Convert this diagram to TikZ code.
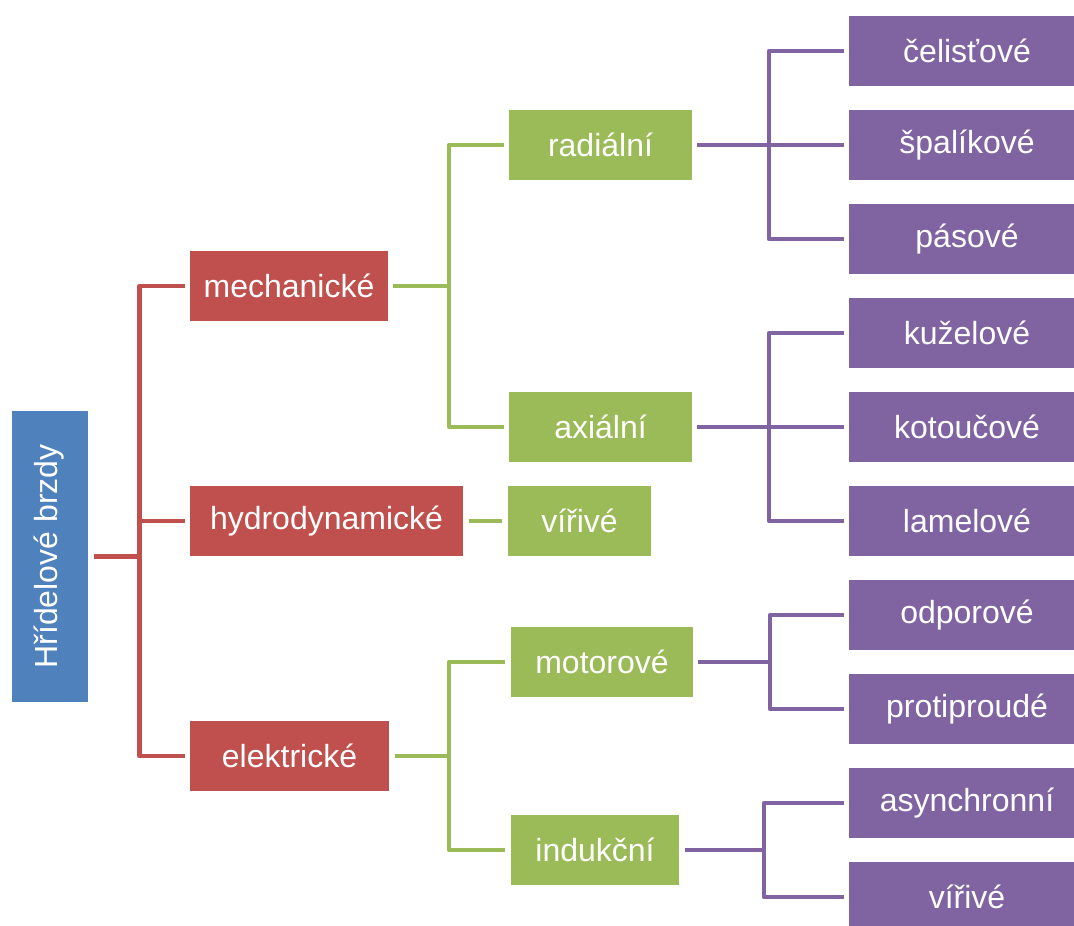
\documentclass[tikz,border=0pt]{standalone}
\usepackage{fontspec}
\setmainfont{Liberation Sans}
\usepackage{graphicx}
\usetikzlibrary{positioning}
\definecolor{rootc}{HTML}{4F81BD}
\definecolor{lvla}{HTML}{C0504D}
\definecolor{lvlb}{HTML}{9BBB59}
\definecolor{lvlc}{HTML}{8064A2}

\begin{document}
\begin{tikzpicture}[x=0.5pt, y=-0.5pt,
  box/.style={anchor=west, text=white, font=\fontsize{16}{19}\selectfont, minimum height=35pt, inner sep=0pt, outer sep=0pt},
  kat/.style={box, fill=lvla},
  typ/.style={box, fill=lvlb},
  dru/.style={box, fill=lvlc, minimum width=118pt},
  lin/.style={line width=2.2pt, line join=round}]
  \useasboundingbox (0,0) rectangle (1074,925);
  \node[fill=rootc, text=white, font=\fontsize{16}{19}\selectfont, minimum width=38pt, minimum height=145.5pt, inner sep=0pt, outer sep=0pt] (root) at (49.5,556.5) {\rotatebox{90}{Hřídelové brzdy}};
  \node[kat, minimum width=99pt] (mech) at (190,286) {mechanické};
  \node[kat, minimum width=136.5pt] (hyd) at (190,521) {hydrodynamické};
  \node[kat, minimum width=99.5pt] (elek) at (190,756) {elektrické};
  \node[typ, minimum width=91.5pt] (rad) at (509,145) {radiální};
  \node[typ, minimum width=91.5pt] (axi) at (509,427) {axiální};
  \node[typ, minimum width=71.5pt] (vir) at (508,521) {vířivé};
  \node[typ, minimum width=91pt] (mot) at (511,662) {motorové};
  \node[typ, minimum width=84pt] (ind) at (511,850) {indukční};
  \node[dru] (cel) at (849,51) {čelisťové};
  \node[dru, below=12pt of cel] (spa) {špalíkové};
  \node[dru, below=12pt of spa] (pas) {pásové};
  \node[dru, below=12pt of pas] (kuz) {kuželové};
  \node[dru, below=12pt of kuz] (kot) {kotoučové};
  \node[dru, below=12pt of kot] (lam) {lamelové};
  \node[dru, below=12pt of lam] (odp) {odporové};
  \node[dru, below=12pt of odp] (pro) {protiproudé};
  \node[dru, below=12pt of pro] (asy) {asynchronní};
  \node[dru, below=12pt of asy] (vrv) {vířivé};

  \draw[lin, draw=lvla] ([xshift=3pt]root.east) -- ++(23pt,0) coordinate (ja);
  \draw[lin, draw=lvla] ([xshift=-2.5pt]mech.west) -| (ja |- elek) -- ([xshift=-2.5pt]elek.west);
  \draw[lin, draw=lvla] (ja |- hyd) -- ([xshift=-2.5pt]hyd.west);
  \draw[lin, draw=lvlb] ([xshift=2.5pt]mech.east) -- ++(28pt,0) coordinate (jb);
  \draw[lin, draw=lvlb] ([xshift=-2.5pt]rad.west) -| (jb |- axi) -- ([xshift=-2.5pt]axi.west);
  \draw[lin, draw=lvlb] ([xshift=3pt]hyd.east) -- ([xshift=-3pt]vir.west);
  \draw[lin, draw=lvlb] ([xshift=3pt]elek.east) -- ++(27pt,0) coordinate (jc);
  \draw[lin, draw=lvlb] ([xshift=-3pt]mot.west) -| (jc |- ind) -- ([xshift=-3pt]ind.west);
  \draw[lin, draw=lvlc] ([xshift=2.5pt]rad.east) -- ++(36pt,0) coordinate (jd);
  \draw[lin, draw=lvlc] ([xshift=-2.5pt]cel.west) -| (jd |- pas) -- ([xshift=-2.5pt]pas.west);
  \draw[lin, draw=lvlc] (jd |- spa) -- ([xshift=-2.5pt]spa.west);
  \draw[lin, draw=lvlc] ([xshift=2.5pt]axi.east) -- ++(36pt,0) coordinate (je);
  \draw[lin, draw=lvlc] ([xshift=-2.5pt]kuz.west) -| (je |- lam) -- ([xshift=-2.5pt]lam.west);
  \draw[lin, draw=lvlc] (je |- kot) -- ([xshift=-2.5pt]kot.west);
  \draw[lin, draw=lvlc] ([xshift=2.5pt]mot.east) -- ++(36pt,0) coordinate (jf);
  \draw[lin, draw=lvlc] ([xshift=-2.5pt]odp.west) -| (jf |- pro) -- ([xshift=-2.5pt]pro.west);
  \draw[lin, draw=lvlc] ([xshift=3pt]ind.east) -- ++(39.5pt,0) coordinate (jg);
  \draw[lin, draw=lvlc] ([xshift=-2.5pt]asy.west) -| (jg |- vrv) -- ([xshift=-2.5pt]vrv.west);
\end{tikzpicture}
\end{document}
